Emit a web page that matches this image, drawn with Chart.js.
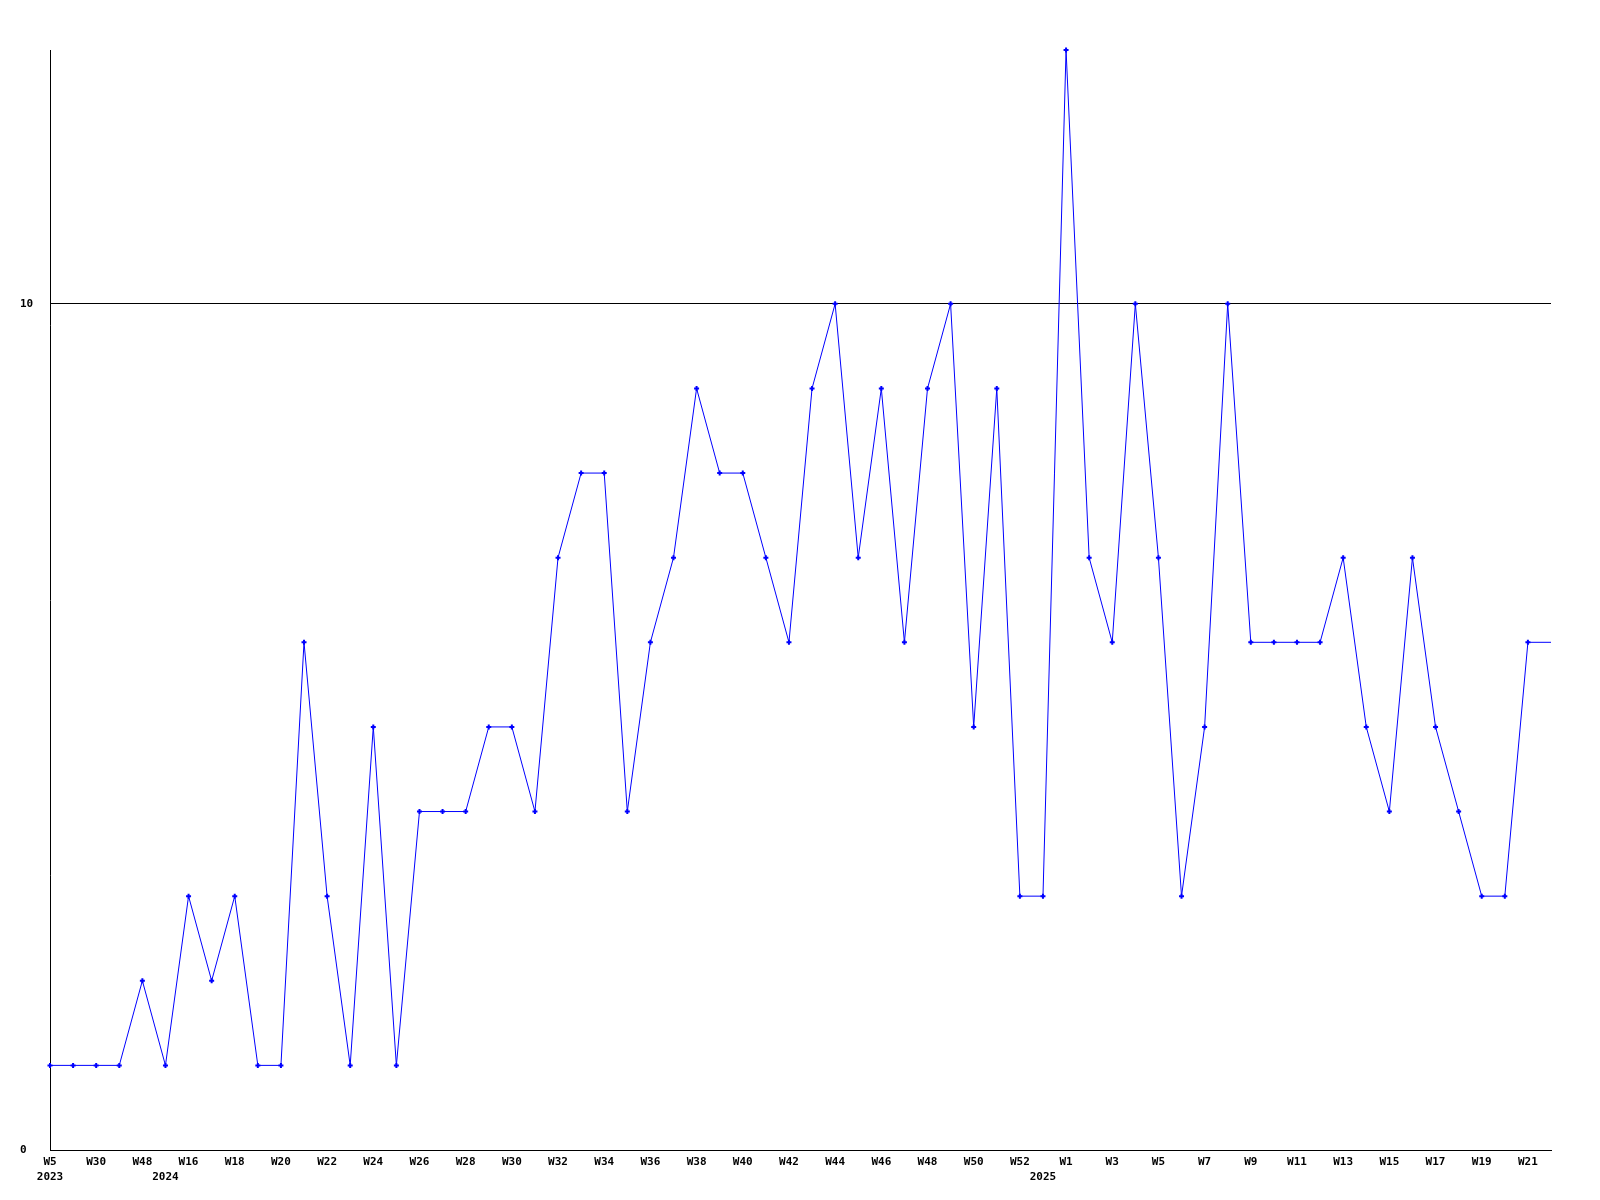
<!DOCTYPE html>
<html>
<head>
<meta charset="utf-8">
<script src="https://cdn.jsdelivr.net/npm/chart.js@4.4.1/dist/chart.umd.min.js"></script>
<style>
	body{margin:0;background:#ffffff;}
	#wrap{width:1600px;height:1200px;}
</style>
</head>
<body>
<div id="wrap"><canvas id="grafico" width="1600" height="1200"></canvas></div>
<script>

// settimane (una ogni punto), l'anno dove inizia
var settimane = [["W5","2023"],"W20","W30","W40","W48",["W10","2024"],"W16","W17","W18","W19",
	"W20","W21","W22","W23","W24","W25","W26","W27","W28","W29",
	"W30","W31","W32","W33","W34","W35","W36","W37","W38","W39",
	"W40","W41","W42","W43","W44","W45","W46","W47","W48","W49",
	"W50","W51","W52",["W53","2025"],"W1","W2","W3","W4","W5","W6",
	"W7","W8","W9","W10","W11","W12","W13","W14","W15","W16",
	"W17","W18","W19","W20","W21","W22"];

var valori = [1,1,1,1,2,1,3,2,3,1,
	1,6,3,1,5,1,4,4,4,5,
	5,4,7,8,8,4,6,7,9,8,
	8,7,6,9,10,7,9,6,9,10,
	5,9,3,3,13,7,6,10,7,3,
	5,10,6,6,6,6,7,5,4,7,
	5,4,3,3,6,6];

var tickY = [0, 10];
var maxY = 13;

var font = {family: "'DejaVu Sans Mono', monospace", size: 11, weight: "bold", lineHeight: 15/11};

let chart = new Chart(document.getElementById("grafico"), {
	type: 'line',
	data: {
		labels: settimane,
		datasets: [{
			label: "valori",
			data: valori,
			borderColor: "#0000ff",
			backgroundColor: "#0000ff",
			borderWidth: 1,
			tension: 0,
			fill: false,
			clip: false,
			pointStyle: "cross",
			pointBorderWidth: 2,
			pointRadius: function(ctx){
				// l'ultimo punto sta sul bordo, senza segno
				return ctx.dataIndex == valori.length-1 ? 0 : 2.5;
			},
			pointHoverRadius: 0
		}]
	},
	options: {
		responsive: false,
		animation: false,
		events: [],
		layout: {padding: {left: 20, top: 50, right: 49, bottom: 0}},
		plugins: {
			legend: {display: false},
			tooltip: {enabled: false}
		},
		scales: {
			x: {
				grid: {display: false, drawTicks: false},
				border: {display: true, color: "#000000", width: 1},
				afterFit: function(axis){ axis.height = 50; },
				ticks: {
					autoSkip: false,
					maxRotation: 0,
					padding: 5,
					color: "#000000",
					font: font,
					callback: function(value, index){
						var l = this.getLabelForValue(value);
						if (index % 2 == 1) {
							// settimane dispari nascoste, resta solo l'anno
							if (Array.isArray(l)) return ["", l[1]];
							return "";
						}
						return l;
					}
				}
			},
			y: {
				min: 0,
				max: maxY,
				afterBuildTicks: function(axis){
					axis.ticks = tickY.map(function(v){ return {value: v}; });
				},
				afterFit: function(axis){ axis.width = 30; },
				grid: {color: "#000000", lineWidth: 1, drawTicks: false},
				border: {display: true, color: "#000000", width: 1},
				ticks: {
					crossAlign: "far",
					color: "#000000",
					font: font
				}
			}
		}
	}
});
</script>
</body>
</html>
